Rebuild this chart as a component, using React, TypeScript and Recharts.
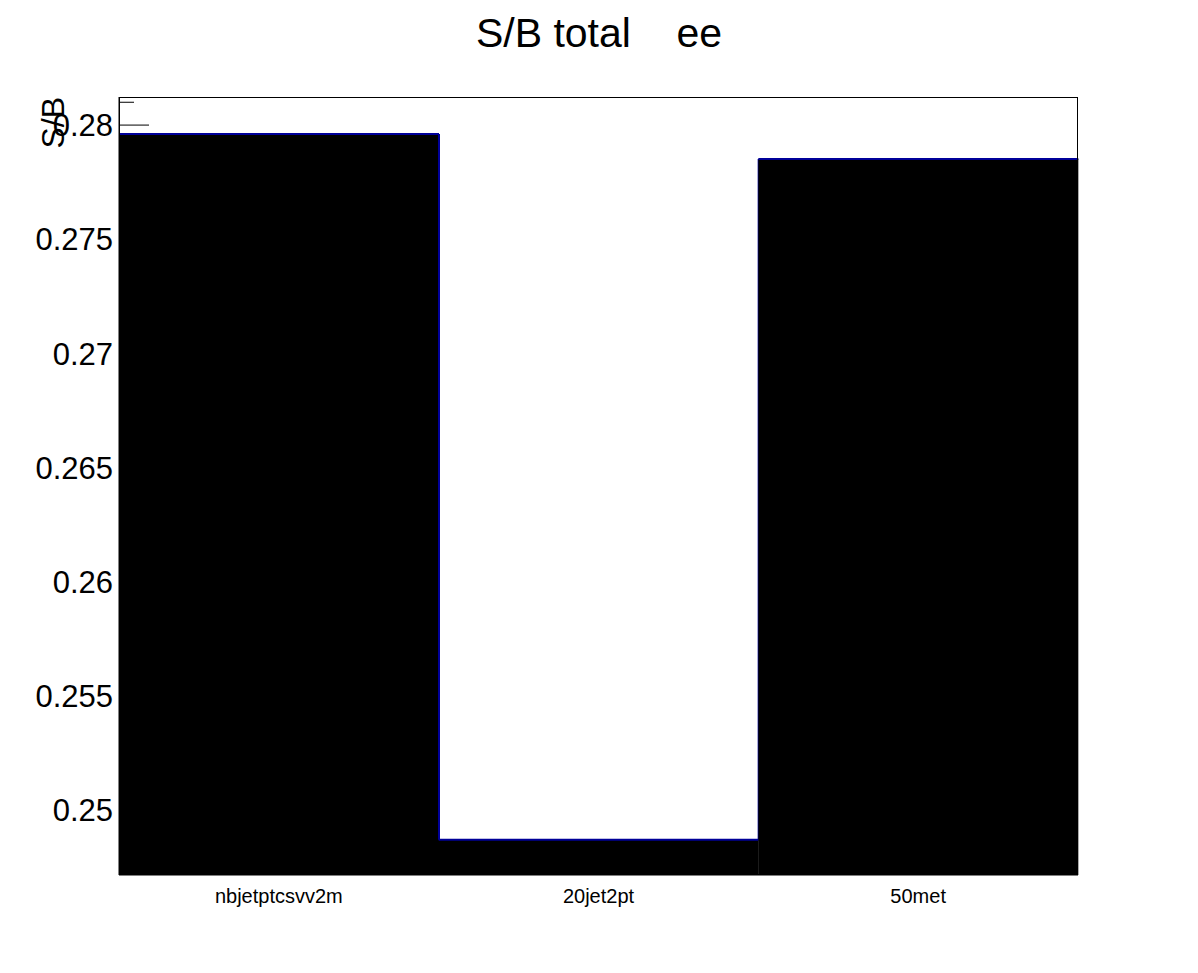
import React from "react";
import { BarChart, Bar, XAxis, YAxis } from "recharts";

const cuts = ["nbjetptcsvv2m", "20jet2pt", "50met"];
const sOverB = [0.27961, 0.24869, 0.27851];

const yMin = 0.24715;
const yMax = 0.28123;
const yTicks = [
  0.248, 0.249, 0.25, 0.251, 0.252, 0.253, 0.254, 0.255, 0.256, 0.257, 0.258,
  0.259, 0.26, 0.261, 0.262, 0.263, 0.264, 0.265, 0.266, 0.267, 0.268, 0.269,
  0.27, 0.271, 0.272, 0.273, 0.274, 0.275, 0.276, 0.277, 0.278, 0.279, 0.28,
  0.281,
];

const font = '"Liberation Sans", Arial, Helvetica, sans-serif';
const edge = "#000099";

const W = 1198;
const H = 973;
const margin = { top: 97, right: 120, bottom: 58, left: 0 };
const yAxisWidth = 119;
const xAxisHeight = 40;

const data = cuts.map((cut, i) => ({ cut, value: sOverB[i] }));

function YTick(props: any) {
  const { x, y, payload } = props;
  const v: number = payload.value;
  const major = Math.abs(Math.round(v * 1000) % 5) === 0;
  const label = Number(v.toFixed(3)).toString();
  return (
    <g>
      <line x1={x + 6} x2={x + 6 + (major ? 30 : 15)} y1={y} y2={y} stroke="#000" strokeWidth={1} />
      {major && (
        <text x={x} y={y} dy="0.36em" textAnchor="end" fontSize={31} fontFamily={font} fill="#000">
          {label}
        </text>
      )}
    </g>
  );
}

// black filled bin with the blue step outline on top (and down to the next bin)
function StepBar(props: any) {
  const { x, y, width, height, index, value } = props;
  const v = Array.isArray(value) ? value[1] : value;
  const perUnit = height / (v - yMin);
  const next = data[index + 1];
  const nextY = next ? y + height - (next.value - yMin) * perUnit : y;
  return (
    <g>
      <rect x={x} y={y} width={width} height={height} fill="#000" />
      <line x1={x} x2={x + width} y1={y} y2={y} stroke={edge} strokeWidth={2} />
      {next && (
        <line x1={x + width} x2={x + width} y1={y} y2={nextY} stroke={edge} strokeWidth={2} />
      )}
    </g>
  );
}

export default function App() {
  const plotX = margin.left + yAxisWidth;
  const plotY = margin.top;
  const plotW = W - plotX - margin.right;
  const plotH = H - margin.top - margin.bottom - xAxisHeight;
  return (
    <div style={{ position: "absolute", left: 0, top: 0, width: W, height: H, background: "#fff" }}>
      <BarChart width={W} height={H} data={data} margin={margin} barCategoryGap={0} barGap={0}>
        <XAxis
          dataKey="cut"
          height={xAxisHeight}
          tickLine={false}
          tickSize={0}
          tickMargin={14}
          axisLine={{ stroke: "#000" }}
          tick={{ fontSize: 20, fill: "#000", fontFamily: font }}
        />
        <YAxis
          width={yAxisWidth}
          type="number"
          domain={[yMin, yMax]}
          allowDataOverflow
          ticks={yTicks}
          interval={0}
          tickSize={0}
          tickMargin={6}
          tickLine={false}
          axisLine={{ stroke: "#000" }}
          tick={<YTick />}
        />
        <Bar dataKey="value" shape={<StepBar />} isAnimationActive={false} />
      </BarChart>
      <svg width={W} height={H} style={{ position: "absolute", left: 0, top: 0, pointerEvents: "none" }}>
        {/* frame */}
        <rect x={plotX + 0.5} y={plotY + 0.5} width={plotW - 1} height={plotH - 1} fill="none" stroke="#000" strokeWidth={1} />
        <text x={599} y={47} textAnchor="middle" fontSize={41} fontFamily={font} fill="#000" style={{ whiteSpace: "pre" }}>
          {"S/B total    ee"}
        </text>
        <text
          x={64}
          y={97}
          transform="rotate(-90, 64, 97)"
          textAnchor="end"
          fontSize={32}
          fontFamily={font}
          fill="#000"
        >
          S/B
        </text>
      </svg>
    </div>
  );
}
